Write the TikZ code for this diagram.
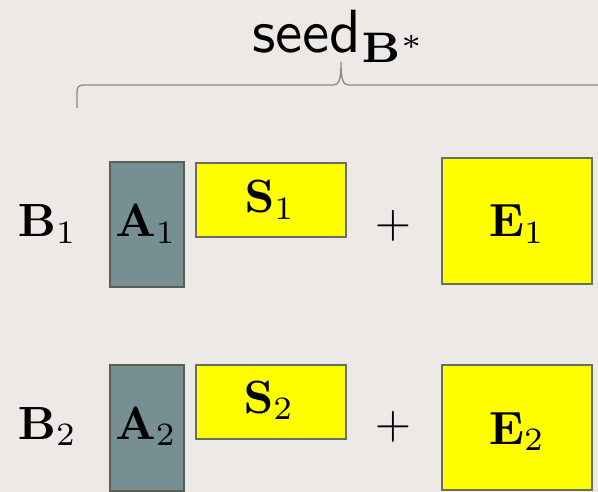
\documentclass[tikz,border=0pt]{standalone}
\definecolor{bg}{RGB}{236,233,230}
\definecolor{afill}{RGB}{118,143,146}
\definecolor{aline}{RGB}{88,96,86}
\definecolor{eline}{RGB}{104,110,100}
\definecolor{yfill}{RGB}{255,255,0}
\definecolor{bracecol}{RGB}{140,138,124}
\tikzset{
  abox/.style={draw=aline, fill=afill, line width=2.2pt, anchor=north west, inner sep=0pt},
  ybox/.style={draw=eline, fill=yfill, line width=2.2pt, anchor=north west, inner sep=0pt},
  lab/.style={anchor=base, inner sep=0pt, font=\normalsize, scale=4.66},
}
\begin{document}
\begin{tikzpicture}[x=1pt,y=-1pt]
\clip (0,0) rectangle (598,492);
\fill[bg] (0,0) rectangle (598,492);
% brace
\draw[bracecol, line width=1.3pt]
  (77,108) -- (77,93) .. controls (77,87) and (78.5,85) .. (84,85)
  -- (333,85) .. controls (339,85) and (341,80) .. (341,62)
  .. controls (341,80) and (343,85) .. (349,85)
  -- (598,85) .. controls (603.5,85) and (605,87) .. (605,93) -- (605,108);
\node[anchor=base west, inner sep=0pt, font=\normalsize\sffamily, scale=6.1] (seed) at (251,53) {seed$_{\mathbf{B}^*}$};
% row 1
\node[abox, minimum width=74, minimum height=125] (a1) at (109,161) {};
\node[ybox, minimum width=150, minimum height=74] (s1) at (195,162) {};
\node[ybox, minimum width=150, minimum height=126] (e1) at (441,157) {};
\node[lab, anchor=base west] (b1t) at (17,237) {$\mathbf{B}_1$};
\node[lab] (a1t) at (146,237) {$\mathbf{A}_1$};
\node[lab] (s1t) at (270,213) {$\mathbf{S}_1$};
\node[lab] (p1) at (393,237.5) {$+$};
\node[lab] (e1t) at (517,237) {$\mathbf{E}_1$};
% row 2
\node[abox, minimum width=74, minimum height=126] (a2) at (109,364) {};
\node[ybox, minimum width=150, minimum height=74] (s2) at (195,364) {};
\node[ybox, minimum width=150, minimum height=125] (e2) at (441,364) {};
\node[lab, anchor=base west] (b2t) at (17,439) {$\mathbf{B}_2$};
\node[lab] (a2t) at (146,439) {$\mathbf{A}_2$};
\node[lab] (s2t) at (269,413) {$\mathbf{S}_2$};
\node[lab] (p2) at (393,438.5) {$+$};
\node[lab] (e2t) at (517,444) {$\mathbf{E}_2$};
\end{tikzpicture}
\end{document}
